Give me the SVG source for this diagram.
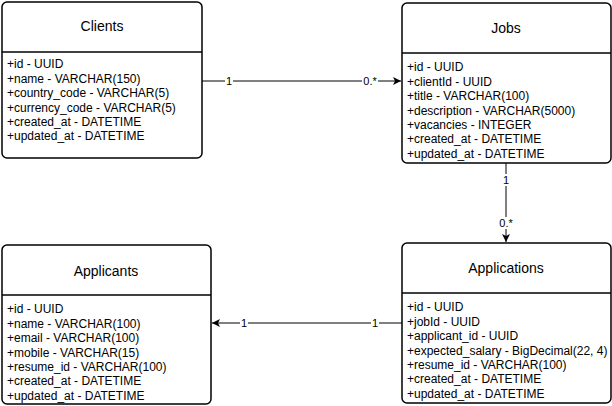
<svg xmlns="http://www.w3.org/2000/svg" width="612" height="406" viewBox="0 0 612 406">
<defs>
<marker id="arr" markerWidth="10" markerHeight="10" refX="9" refY="5" orient="auto" markerUnits="userSpaceOnUse">
<path d="M1,1 L9,5 L1,9 L3,5 Z" fill="#000"/>
</marker>
</defs>
<style>
.box{fill:#fff;stroke:#000;stroke-width:1.5}
.div{stroke:#000;stroke-width:1.5}
.title{font-family:"Liberation Sans",Arial,sans-serif;font-size:14px;text-anchor:middle;fill:#000}
.row{font-family:"Liberation Sans",Arial,sans-serif;font-size:12px;fill:#000}
.edge{stroke:#000;stroke-width:1;fill:none}
.lbl{font-family:"Liberation Sans",Arial,sans-serif;font-size:11px;text-anchor:middle;fill:#000}
.lblbg{fill:#fff}
</style>
<rect width="612" height="406" fill="#fff"/>
<g id="connectors">
<line class="edge" x1="202" y1="81" x2="401" y2="81" marker-end="url(#arr)"/>
<rect class="lblbg" x="225" y="75" width="8" height="12"/>
<text class="lbl" x="229" y="85">1</text>
<rect class="lblbg" x="362" y="75" width="16" height="12"/>
<text class="lbl" x="370" y="85">0.*</text>
<line class="edge" x1="506" y1="163" x2="506" y2="242" marker-end="url(#arr)"/>
<rect class="lblbg" x="501" y="174" width="10" height="12"/>
<text class="lbl" x="506" y="184">1</text>
<rect class="lblbg" x="498" y="217" width="16" height="12"/>
<text class="lbl" x="506" y="227">0.*</text>
<line class="edge" x1="402" y1="323" x2="212" y2="323" marker-end="url(#arr)"/>
<rect class="lblbg" x="240" y="317" width="8" height="12"/>
<text class="lbl" x="244" y="327">1</text>
<rect class="lblbg" x="371" y="317" width="8" height="12"/>
<text class="lbl" x="375" y="327">1</text>
</g>
<g id="clients">
<rect class="box" x="2" y="2" width="200" height="156" rx="5"/>
<line class="div" x1="2" y1="52" x2="202" y2="52"/>
<text class="title" x="102" y="31">Clients</text>
<text class="row" x="7" y="68.3">+id - UUID</text>
<text class="row" x="7" y="82.7">+name - VARCHAR(150)</text>
<text class="row" x="7" y="97.1">+country_code - VARCHAR(5)</text>
<text class="row" x="7" y="111.5">+currency_code - VARCHAR(5)</text>
<text class="row" x="7" y="125.9">+created_at - DATETIME</text>
<text class="row" x="7" y="140.3">+updated_at - DATETIME</text>
</g>
<g id="jobs">
<rect class="box" x="402" y="3" width="209" height="160" rx="5"/>
<line class="div" x1="402" y1="53" x2="611" y2="53"/>
<text class="title" x="506" y="33">Jobs</text>
<text class="row" x="407" y="71.3">+id - UUID</text>
<text class="row" x="407" y="85.7">+clientId - UUID</text>
<text class="row" x="407" y="100.1">+title - VARCHAR(100)</text>
<text class="row" x="407" y="114.5">+description - VARCHAR(5000)</text>
<text class="row" x="407" y="128.9">+vacancies - INTEGER</text>
<text class="row" x="407" y="143.3">+created_at - DATETIME</text>
<text class="row" x="407" y="157.7">+updated_at - DATETIME</text>
</g>
<g id="applicants">
<rect class="box" x="2" y="245" width="209" height="159" rx="5"/>
<line class="div" x1="2" y1="295" x2="211" y2="295"/>
<text class="title" x="106" y="276">Applicants</text>
<text class="row" x="7" y="313.3">+id - UUID</text>
<text class="row" x="7" y="327.7">+name - VARCHAR(100)</text>
<text class="row" x="7" y="342.1">+email - VARCHAR(100)</text>
<text class="row" x="7" y="356.5">+mobile - VARCHAR(15)</text>
<text class="row" x="7" y="370.9">+resume_id - VARCHAR(100)</text>
<text class="row" x="7" y="385.3">+created_at - DATETIME</text>
<text class="row" x="7" y="399.7">+updated_at - DATETIME</text>
</g>
<g id="applications">
<rect class="box" x="402" y="243" width="209" height="160" rx="5"/>
<line class="div" x1="402" y1="293" x2="611" y2="293"/>
<text class="title" x="506" y="273">Applications</text>
<text class="row" x="407" y="311.3">+id - UUID</text>
<text class="row" x="407" y="325.7">+jobId - UUID</text>
<text class="row" x="407" y="340.1">+applicant_id - UUID</text>
<text class="row" x="407" y="354.5">+expected_salary - BigDecimal(22, 4)</text>
<text class="row" x="407" y="368.9">+resume_id - VARCHAR(100)</text>
<text class="row" x="407" y="383.3">+created_at - DATETIME</text>
<text class="row" x="407" y="397.7">+updated_at - DATETIME</text>
</g>
</svg>
